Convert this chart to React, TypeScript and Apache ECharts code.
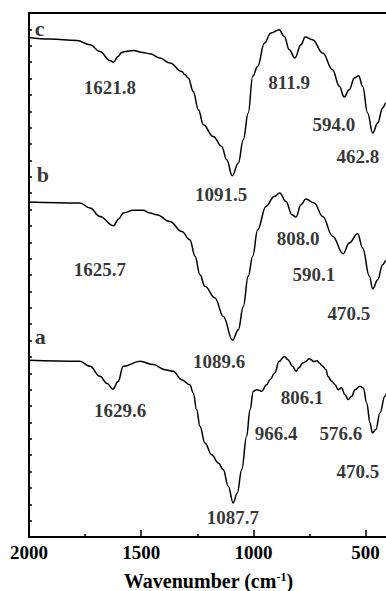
import React, { useEffect, useRef } from 'react';
import * as echarts from 'echarts';

// Spectrum c : [wavenumber (cm-1), offset transmittance]
const curveC: [number, number][] = [
  [2000, 30.51], [1906, 30.41], [1786, 30.32], [1728, 30.06], [1684, 29.65], [1639, 29.1],
  [1624, 28.99], [1603, 29.35], [1587, 29.59], [1572, 29.65], [1535, 29.71], [1492, 29.59],
  [1461, 29.51], [1416, 29.25], [1372, 28.94], [1319, 28.43], [1305, 28.23], [1290, 28.03],
  [1268, 27.21], [1245, 26.09], [1223, 25.18],
  [1179, 24.46], [1141, 23.85], [1119, 23.04], [1094, 22.06], [1067, 22.84], [1045, 24.26],
  [1023, 25.89], [1003, 28.13], [981, 28.74], [951, 30.16], [922, 30.78], [885, 30.98],
  [862, 30.57], [840, 29.76], [815, 29.25], [788, 30.06], [769, 30.53], [736, 30.37],
  [691, 29.55], [647, 28.54], [617, 27.52], [595, 26.87], [573, 27.31], [550, 28.03],
  [531, 28.17], [513, 27.52], [491, 25.89], [468, 24.67], [446, 25.28], [424, 26.2],
  [409, 26.5], [400, 26.7],
];

// Spectrum b
const curveB: [number, number][] = [
  [2000, 20.46], [1773, 20.4], [1728, 20.09], [1684, 19.58], [1624, 19.01], [1599, 19.44],
  [1580, 19.79], [1535, 19.95], [1492, 19.95], [1461, 19.79], [1431, 19.68], [1372, 19.27],
  [1319, 18.66], [1283, 18.16], [1260, 17.14], [1238, 16.02], [1216, 15.31], [1171, 14.6],
  [1134, 13.47], [1093, 12.02], [1067, 12.66], [1045, 14.08], [1023, 15.92], [1003, 17.14],
  [981, 18.77], [944, 20.19], [907, 20.8], [882, 21.01], [855, 20.49], [828, 19.68],
  [810, 19.54], [788, 20.29], [766, 20.64], [729, 20.4], [691, 19.58], [647, 18.36],
  [600, 17.3], [573, 17.95], [535, 18.52], [513, 17.65], [483, 15.92], [468, 15.15],
  [446, 15.71], [424, 16.63], [409, 16.89], [400, 17.1],
];

// Spectrum a
const curveA: [number, number][] = [
  [2000, 10.79], [1773, 10.73], [1728, 10.42], [1684, 9.81], [1652, 9.37], [1626, 9.03],
  [1603, 9.49], [1580, 10.42], [1505, 10.73], [1446, 10.53], [1394, 10.22], [1357, 10.12],
  [1320, 9.61], [1283, 9.3], [1268, 8.8], [1253, 7.78], [1238, 6.76], [1216, 5.74],
  [1186, 5.03], [1156, 4.52], [1134, 4.11], [1112, 3.1], [1090, 2.08], [1072, 2.69],
  [1052, 4.11], [1030, 6.15], [1015, 7.78], [1000, 8.9], [985, 9.0], [963, 8.9],
  [941, 9.3], [926, 9.61], [904, 10.02], [886, 10.71], [862, 11.03], [846, 10.83],
  [825, 10.42], [810, 10.12], [797, 10.34], [780, 10.63], [766, 10.71], [752, 10.89],
  [743, 10.83], [730, 10.71], [717, 10.77], [706, 10.63], [694, 10.46], [676, 10.22],
  [668, 9.81], [651, 9.51], [636, 9.3], [622, 9.0], [607, 9.12], [592, 8.69],
  [577, 8.39], [562, 8.59], [547, 9.0], [525, 9.2], [510, 9.1], [495, 8.19],
  [480, 6.97], [470, 6.36], [454, 6.56], [436, 7.58], [414, 8.59], [400, 9.3],
];

// Peak annotations (text, anchor wavenumber, anchor value)
const peakTexts = [
  '1621.8', '811.9', '594.0', '462.8', '1091.5',
  '1625.7', '808.0', '590.1', '470.5', '1089.6',
  '1629.6', '806.1', '966.4', '576.6', '470.5', '1087.7',
];
const peakWn = [1639, 841, 641, 534, 1144, 1684, 801, 730, 574, 1153, 1594, 783, 899, 610, 534, 1091];
const peakY = [27.44, 27.74, 25.18, 23.22, 20.89, 16.33, 18.21, 16.02, 13.63, 10.71, 7.72, 8.51, 6.31, 6.31, 3.99, 1.19];

// Curve letters
const curveNames = ['c', 'b', 'a'];
const curveNameWn = [1953, 1938, 1950];
const curveNameY = [31.07, 22.12, 12.23];

const xMajorTicks = [500, 1000, 1500, 2000];
const xMinorTicks = [750, 1250, 1750];

const FONT = '"Liberation Serif", "Times New Roman", serif';

export default function App() {
  const ref = useRef<HTMLDivElement>(null);

  useEffect(() => {
    if (!ref.current) return;
    const chart = echarts.init(ref.current, undefined, { renderer: 'svg' });

    const lineSeries = [curveC, curveB, curveA].map((d, i) => ({
      type: 'line',
      name: curveNames[i],
      data: d,
      xAxisIndex: 0,
      yAxisIndex: 0,
      showSymbol: false,
      symbol: 'none',
      smooth: 0.4,
      smoothMonotone: 'x',
      lineStyle: { color: '#000', width: 1.5 },
      silent: true,
    }));

    const option: any = {
      animation: false,
      grid: {
        left: 29, top: 13, right: -2, bottom: 54,
        show: true, borderColor: '#000', borderWidth: 2,
        outerBoundsMode: 'none', containLabel: false,
      },
      xAxis: [
        {
          type: 'value', min: 400, max: 2000, inverse: true, position: 'bottom',
          axisLine: { show: true, onZero: false, lineStyle: { color: '#000', width: 2 } },
          axisTick: { show: true, inside: true, length: 7, customValues: xMajorTicks, lineStyle: { color: '#000', width: 1.5 } },
          axisLabel: {
            show: true, customValues: xMajorTicks, color: '#000', fontSize: 19,
            fontWeight: 'bold', fontFamily: FONT, margin: 6,
            formatter: (v: number) => String(v),
          },
          splitLine: { show: false },
          name: '{t|Wavenumber (cm}{s|-1}{t|)}',
          nameLocation: 'middle',
          nameGap: 34,
          nameTextStyle: {
            rich: {
              t: { fontSize: 20, fontWeight: 'bold', fontFamily: FONT, color: '#000' },
              s: { fontSize: 12, fontWeight: 'bold', fontFamily: FONT, color: '#000', verticalAlign: 'top' },
            },
          },
        },
        {
          type: 'value', min: 400, max: 2000, inverse: true, position: 'bottom',
          axisLine: { show: false, onZero: false },
          axisTick: { show: true, inside: true, length: 3, customValues: xMinorTicks, lineStyle: { color: '#000', width: 1.5 } },
          axisLabel: { show: false },
          splitLine: { show: false },
        },
      ],
      yAxis: {
        type: 'value', min: 0, max: 32, interval: 1,
        axisLine: { show: true, onZero: false, lineStyle: { color: '#000', width: 2 } },
        axisTick: { show: true, inside: true, length: 3, lineStyle: { color: '#000', width: 1.5 } },
        axisLabel: { show: false },
        splitLine: { show: false },
      },
      series: [
        ...lineSeries,
        {
          type: 'scatter',
          symbolSize: 0,
          silent: true,
          data: peakTexts.map((t, i) => ({ name: t, value: [peakWn[i], peakY[i]] })),
          label: {
            show: true, position: 'inside', formatter: '{b}',
            color: '#000', fontSize: 19, fontWeight: 'bold', fontFamily: FONT,
          },
        },
        {
          type: 'scatter',
          symbolSize: 0,
          silent: true,
          data: curveNames.map((t, i) => ({ name: t, value: [curveNameWn[i], curveNameY[i]] })),
          label: {
            show: true, position: 'inside', formatter: '{b}',
            color: '#000', fontSize: 22, fontWeight: 'bold', fontFamily: FONT,
          },
        },
      ],
    };

    chart.setOption(option);
    return () => chart.dispose();
  }, []);

  return (
    <div
      ref={ref}
      style={{ position: 'fixed', left: 0, top: 0, width: 386, height: 591, background: '#fff' }}
    />
  );
}
